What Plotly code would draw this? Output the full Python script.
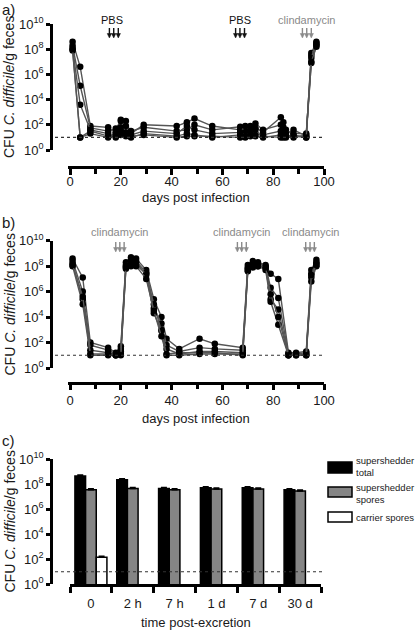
import plotly.graph_objects as go

W, H = 416, 631
def px(p): return p / W
def py(p): return 1 - p / H

# ---------------- data (log10 CFU / g feces) ----------------
days_a = [1, 4, 8, 15, 18, 20, 22, 24, 29, 42, 46, 49, 56, 67, 69, 71, 73, 76, 83, 84, 85, 88, 93, 95, 97]
mice_a = [
    [8.6, 6.6, 1.9, 1.8, 1.4, 2.4, 2.3, 1.3, 2.0, 1.9, 2.2, 2.5, 1.9, 1.6, 1.7, 1.5, 1.8, 1.4, 2.6, 2.2, 1.6, 1.2, 1.0, 7.7, 8.5],
    [8.3, 5.1, 1.75, 1.5, 1.7, 2.3, 1.9, 1.5, 1.8, 1.5, 1.6, 2.0, 1.6, 1.85, 1.5, 1.9, 2.1, 1.6, 2.0, 1.8, 1.3, 1.6, 1.1, 7.5, 8.4],
    [8.1, 3.6, 1.6, 1.3, 1.0, 1.8, 1.4, 1.2, 1.5, 1.3, 1.9, 1.6, 1.3, 1.4, 1.9, 1.6, 1.3, 1.2, 1.5, 1.4, 1.0, 1.3, 1.3, 6.9, 8.3],
    [7.9, 1.0, 1.5, 1.1, 1.3, 1.5, 1.1, 1.0, 1.3, 1.1, 1.3, 1.2, 1.0, 1.2, 1.1, 1.3, 1.6, 1.0, 1.2, 1.1, 1.2, 1.0, 1.2, 7.3, 8.6],
    [8.0, 1.0, 1.3, 1.0, 1.1, 1.2, 1.2, 1.1, 1.2, 1.0, 1.1, 1.1, 1.1, 1.0, 1.0, 1.1, 1.1, 1.1, 1.0, 1.0, 1.1, 1.1, 1.0, 7.0, 8.2],
]

days_b = [1, 5, 8, 15, 18, 20, 22, 24, 26, 30, 33, 36, 38, 43, 51, 57, 68, 70, 72, 74, 77, 79, 82, 86, 89, 93, 95, 97]
mice_b = [
    [8.6, 7.1, 2.0, 1.6, 1.2, 1.7, 8.3, 8.7, 8.6, 7.7, 5.4, 4.0, 2.3, 1.5, 2.3, 1.9, 1.6, 8.1, 8.4, 8.3, 8.1, 7.4, 7.0, 1.2, 1.2, 1.3, 7.7, 8.5],
    [8.4, 6.0, 1.8, 1.4, 1.1, 1.5, 8.1, 8.5, 8.4, 7.5, 4.7, 3.5, 1.8, 1.3, 1.6, 1.5, 1.4, 7.9, 8.2, 8.2, 8.0, 6.3, 5.5, 1.1, 1.1, 1.2, 7.4, 8.3],
    [8.2, 5.4, 1.4, 1.2, 1.0, 1.3, 8.0, 8.2, 8.1, 7.4, 5.0, 3.0, 1.5, 1.1, 1.3, 1.3, 1.2, 7.8, 8.0, 8.0, 7.9, 5.4, 4.6, 1.0, 1.0, 1.1, 7.1, 8.2],
    [8.0, 5.0, 1.0, 1.0, 1.0, 1.1, 7.8, 8.0, 8.3, 7.3, 4.3, 2.9, 1.0, 1.0, 1.1, 1.1, 1.1, 7.6, 8.1, 8.0, 7.7, 5.2, 3.4, 1.0, 1.0, 1.0, 6.8, 8.0],
    [8.1, 5.6, 1.1, 1.1, 1.0, 1.0, 7.9, 8.1, 8.0, 7.0, 4.5, 2.5, 1.1, 1.2, 1.2, 1.2, 1.0, 7.7, 7.9, 8.1, 7.9, 5.8, 4.0, 1.0, 1.1, 1.0, 7.3, 8.1],
]

times_c = ["0", "2 h", "7 h", "1 d", "7 d", "30 d"]
ss_total = [8.65, 8.35, 7.65, 7.7, 7.7, 7.55]
ss_spores = [7.55, 7.65, 7.55, 7.6, 7.6, 7.45]
carrier = [2.15, None, None, None, None, None]
err_c = 0.08  # small error (log10 units)

detect_limit = 10
ytick_vals = [1, 1e2, 1e4, 1e6, 1e8, 1e10]
ytick_text = ["10<sup>0</sup>", "10<sup>2</sup>", "10<sup>4</sup>", "10<sup>6</sup>", "10<sup>8</sup>", "10<sup>10</sup>"]

# treatment arrows: (label, colour, days, label centre day)
treat_a = [("PBS", "#111", [15.5, 17.2, 19.0], 16.5),
           ("PBS", "#111", [65.2, 66.9, 68.7], 67.0),
           ("clindamycin", "#8a8a8a", [91.5, 93.2, 95.0], 93.0)]
treat_b = [("clindamycin", "#8a8a8a", [18.0, 19.6, 21.3], 19.5),
           ("clindamycin", "#8a8a8a", [65.9, 67.6, 69.4], 67.5),
           ("clindamycin", "#8a8a8a", [92.8, 94.5, 96.2], 94.5)]

FONT = "Liberation Sans, Arial, sans-serif"
TXT = "#1a1a1a"

fig = go.Figure()

def to_cfu(v):
    return [None if x is None else 10 ** x for x in v]

for m in mice_a:
    fig.add_trace(go.Scatter(x=days_a, y=to_cfu(m), mode="lines+markers",
                             line=dict(color="#555555", width=1.4),
                             marker=dict(color="black", size=6.5),
                             xaxis="x", yaxis="y", showlegend=False))
for m in mice_b:
    fig.add_trace(go.Scatter(x=days_b, y=to_cfu(m), mode="lines+markers",
                             line=dict(color="#555555", width=1.4),
                             marker=dict(color="black", size=6.5),
                             xaxis="x2", yaxis="y2", showlegend=False))

def errs(v):
    return [None if x is None else 10 ** x * (10 ** err_c - 1) for x in v]

for vals, col in [(ss_total, "black"), (ss_spores, "#858585"), (carrier, "white")]:
    fig.add_trace(go.Bar(x=times_c, y=to_cfu(vals), marker=dict(color=col, line=dict(color="black", width=1.5)),
                         error_y=dict(type="data", array=errs(vals), symmetric=False, arrayminus=[0]*6,
                                      color="black", thickness=1.5, width=3),
                         xaxis="x3", yaxis="y3", showlegend=False))

x_dom = [px(67.5), px(324)]
common_x = dict(range=[-1, 100], tick0=0, dtick=20, showgrid=False, zeroline=False, automargin=False,
                showline=True, linecolor="black", linewidth=2.5,
                ticks="outside", ticklen=6, tickwidth=2.5, tickcolor="black",
                minor=dict(dtick=10, ticks="outside", ticklen=5, tickwidth=2.5, tickcolor="black"),
                tickfont=dict(size=13, color=TXT, family=FONT), anchor="free")
common_y = dict(type="log", range=[0, 10], tickvals=ytick_vals, ticktext=ytick_text, automargin=False,
                showgrid=False, zeroline=False, showline=True, linecolor="black", linewidth=2.5,
                ticks="outside", ticklen=4, tickwidth=2.5, tickcolor="black",
                tickfont=dict(size=13, color=TXT, family=FONT), anchor="free", position=px(51))

fig.update_layout(
    template="none",
    width=W, height=H, margin=dict(l=0, r=0, t=0, b=0, pad=0, autoexpand=False),
    paper_bgcolor="white", plot_bgcolor="white",
    font=dict(family=FONT, color=TXT),
    barmode="group", bargap=0.235, bargroupgap=0.0,
    xaxis=dict(domain=x_dom, position=py(167), ticklabelstandoff=-4, **common_x),
    yaxis=dict(domain=[py(150), py(24)], **common_y),
    xaxis2=dict(domain=x_dom, position=py(382.7), ticklabelstandoff=-1, **common_x),
    yaxis2=dict(domain=[py(368), py(240.7)], **common_y),
    xaxis3=dict(domain=[px(70), px(321)], type="category", anchor="y3", automargin=False,
                showgrid=False, zeroline=False, showline=True, linecolor="black", linewidth=2.5,
                ticks="outside", ticklen=6, tickwidth=2.5, tickcolor="black", tickson="boundaries",
                ticklabelstandoff=5, tickfont=dict(size=13, color=TXT, family=FONT)),
    yaxis3=dict(domain=[py(584.3), py(459)], **common_y),
)

shapes = []
# detection limit lines
for yref in ["y", "y2", "y3"]:
    shapes.append(dict(type="line", xref="paper", yref=yref, x0=px(55), x1=px(322),
                       y0=detect_limit, y1=detect_limit,
                       line=dict(color="#333", width=1.2, dash="3px,3px")))
# legend boxes panel c
leg = [("black", 462, 473, "supershedder<br>total", 467),
       ("#858585", 487, 497, "supershedder<br>spores", 493),
       ("white", 512, 522, "carrier spores", 517)]
ann = []
for col, y0, y1, label, yc in leg:
    shapes.append(dict(type="rect", xref="paper", yref="paper", x0=px(328), x1=px(352),
                       y0=py(y1), y1=py(y0), fillcolor=col, line=dict(color="black", width=1.5)))
    ann.append(dict(text=label, xref="paper", yref="paper", x=px(354), y=py(yc), xanchor="left",
                    yanchor="middle", align="left", showarrow=False,
                    font=dict(size=9.5, color=TXT, family=FONT)))

# arrows (shaft + triangular head)
HALF = 0.85  # half head width in days (~2 px)
def add_treat(treats, xref, text_y, tip_y):
    for label, col, ds, xc in treats:
        ann.append(dict(text=label, xref=xref, yref="paper", x=xc, y=py(text_y), showarrow=False,
                        xanchor="center", yanchor="middle", font=dict(size=11, color=col, family=FONT)))
        for d in ds:
            shapes.append(dict(type="line", xref=xref, yref="paper", x0=d, x1=d,
                               y0=py(tip_y - 10), y1=py(tip_y - 3), line=dict(color=col, width=1.4)))
            shapes.append(dict(type="path", xref=xref, yref="paper",
                               path=f"M {d - HALF},{py(tip_y - 4.5)} L {d + HALF},{py(tip_y - 4.5)} L {d},{py(tip_y)} Z",
                               fillcolor=col, line=dict(color=col, width=0.5)))
add_treat(treat_a, "x", 20, 38)
add_treat(treat_b, "x2", 232, 252)

# axis titles & panel labels
ytitle = "CFU <i>C. difficile</i>/g feces"
for yc in [87, 304.5, 521.5]:
    ann.append(dict(text=ytitle, xref="paper", yref="paper", x=px(9), y=py(yc), textangle=-90,
                    showarrow=False, xanchor="center", yanchor="middle",
                    font=dict(size=14, color=TXT, family=FONT)))
for txt, yc in [("days post infection", 198), ("days post infection", 418), ("time post-excretion", 622)]:
    ann.append(dict(text=txt, xref="paper", yref="paper", x=px(196), y=py(yc), showarrow=False,
                    xanchor="center", yanchor="middle", font=dict(size=13, color=TXT, family=FONT)))
for txt, yc in [("a)", 9), ("b)", 222), ("c)", 440)]:
    ann.append(dict(text=txt, xref="paper", yref="paper", x=px(0), y=py(yc), showarrow=False,
                    xanchor="left", yanchor="middle", font=dict(size=15, color=TXT, family=FONT)))

fig.update_layout(shapes=shapes, annotations=ann)
fig.write_html("out.html", config={"displayModeBar": False},
               post_script="document.body.style.margin='0';document.body.style.overflow='hidden';")
